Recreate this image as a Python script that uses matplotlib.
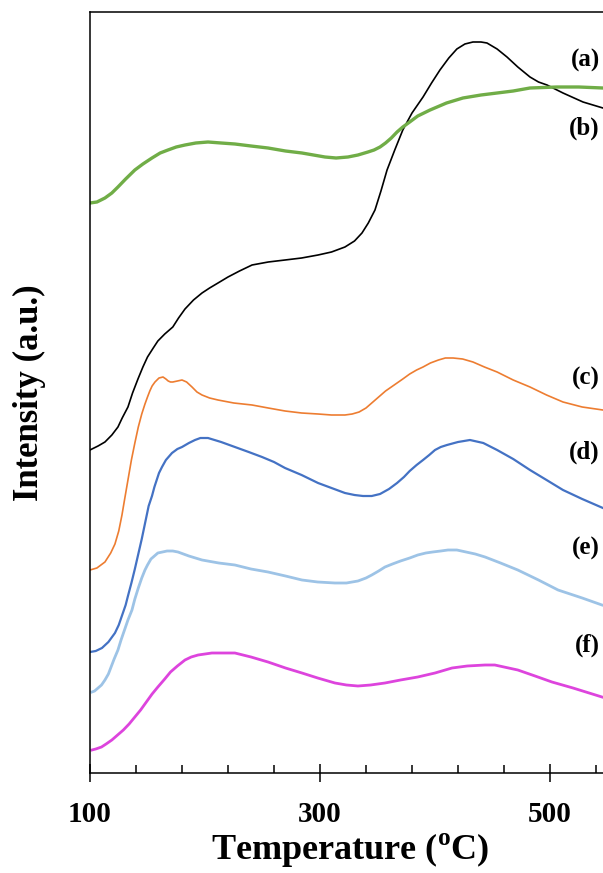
import numpy as np
import matplotlib
matplotlib.use("Agg")
import matplotlib.pyplot as plt
from matplotlib.transforms import blended_transform_factory

plt.rcParams['font.family'] = ['Liberation Serif', 'DejaVu Serif']
plt.rcParams['font.weight'] = 'bold'
plt.rcParams['mathtext.fontset'] = 'custom'
plt.rcParams['mathtext.rm'] = 'Liberation Serif:bold'
plt.rcParams['mathtext.bf'] = 'Liberation Serif:bold'

# TPR profiles (temperature in C, intensity in a.u.)
t_a = [100, 101.7, 107, 113, 119, 124.3, 128, 133, 137, 141.7, 146, 150, 155, 159, 165, 172,
       177, 182.6, 190, 197.4, 204, 211.3, 220, 230, 240.9, 255, 269.6, 284, 298.3,
       310, 321.7, 330, 336.5, 342, 347.8, 353, 358.3, 365, 372, 380, 389.6, 397,
       404.3, 412, 419, 426, 433, 440, 445.2, 454, 462.6, 472, 482.6, 490, 497.4,
       511.3, 528.7, 546, 560]
i_a = [323, 324, 327, 331, 338, 346, 355, 366, 380, 394, 406, 416, 425, 432, 439, 446,
       455, 464, 473, 480, 485, 490, 496, 502, 508, 511, 513, 515, 518,
       521, 526, 532, 540, 550, 563, 582, 603, 623, 643, 660, 676, 690,
       703, 715, 724, 729, 731, 731, 730, 724, 716, 706, 696, 691, 688,
       680, 671, 665, 660]

t_b = [100, 106, 113, 119, 124.3, 131, 139, 146, 153.9, 161, 167.8, 175, 182.6, 192, 202.6,
       214, 226, 240, 254.8, 270, 284.3, 304.3, 314, 324.3, 333, 341.7, 347, 352.2,
       357, 362, 367, 372, 378, 385, 395.7, 410, 424.3, 440, 454, 468, 482.6, 506,
       525, 546, 560]
i_b = [570, 571, 575, 580, 586, 594, 603, 609, 615, 620, 623, 626, 628, 630, 631,
       630, 629, 627, 625, 622, 620, 616, 615, 616, 618, 621, 623, 626,
       630, 635, 641, 646, 651, 657, 663, 670, 675, 678, 680, 682, 685, 686,
       686, 685, 685]

t_c = [100, 106, 113, 118, 121.7, 125, 127.8, 130, 133, 136, 139, 142, 145, 147.8, 150,
       152, 154, 156.5, 160, 163.5, 166, 168, 170, 172, 176, 180, 184,
       188.7, 193, 197.4, 204, 211.3, 225, 240.9, 255, 269.6, 284, 298.3, 310, 321.7,
       328, 334, 340, 346, 352, 357, 362, 367, 372, 378, 384, 389.6, 396, 403, 409,
       415.7, 424, 433, 443, 454, 468, 482.6, 497, 511.3, 528, 546, 560]
i_c = [203, 205, 211, 220, 229, 242, 258, 273, 293, 313, 330, 346, 359, 369, 376,
       382, 387, 391, 395, 396, 394, 392, 391, 391, 392, 393, 391,
       386, 381, 378, 375, 373, 370, 368, 365, 362, 360, 359, 358, 358,
       359, 361, 365, 371, 377, 382, 386, 390, 394, 399, 403, 406, 410, 413, 415,
       415, 414, 411, 406, 401, 393, 386, 378, 371, 366, 363, 360]

t_d = [100, 105, 110.4, 116, 121.7, 125, 128, 131, 133, 136, 139, 142, 145, 147, 149, 151,
       153.9, 156, 158, 160, 162.6, 166, 171.3, 176, 180, 186, 191.3, 196,
       202.6, 214, 226, 238, 249.6, 260, 269.6, 284, 298.3, 310, 321.7, 330, 337.4,
       345, 352.2, 360, 367, 373, 378, 384, 389.6, 395, 400, 405, 410.4, 420, 430.4,
       442, 454, 468, 482.6, 497, 511.3, 528, 546, 560]
i_d = [121, 122, 125, 131, 140, 148, 158, 168, 177, 190, 204, 219, 234, 245, 256, 267,
       277, 286, 293, 300, 306, 313, 320, 324, 326, 330, 333, 335,
       335, 331, 326, 321, 316, 311, 305, 298, 290, 285, 280, 278, 277,
       277, 279, 284, 290, 296, 302, 308, 313, 318, 323, 326, 328, 331, 333,
       330, 323, 314, 303, 293, 283, 274, 265, 258]

t_e = [101.7, 104, 107, 110, 113, 116, 118, 121, 124.3, 127, 130, 133, 136.5, 139, 142,
       145, 147.8, 150, 153, 156, 159, 163, 167, 172, 176.5, 186, 197.4, 212,
       226, 240, 254.8, 270, 284.3, 298, 313, 323, 333, 340, 345, 351, 356.5, 363,
       370, 378, 385, 392, 398, 405, 411.3, 419, 427, 435, 443.5, 457, 472, 490,
       507, 528, 545.2, 560]
i_e = [81, 82, 85, 88, 93, 99, 105, 114, 123, 133, 143, 153, 163, 174, 185,
       195, 203, 208, 214, 217, 220, 221, 222, 222, 221, 217, 213, 210,
       208, 204, 201, 197, 193, 191, 190, 190, 192, 195, 198, 202, 206, 209,
       212, 215, 218, 220, 221, 222, 223, 223, 221, 219, 216, 210, 203, 193,
       183, 175, 168, 163]

t_f = [101.7, 105, 110, 114, 119, 124, 129, 134, 139, 144, 149, 154, 159, 165, 170,
       176, 182.6, 188, 194, 200, 206, 216, 226, 240, 254.8, 270, 284.3, 298,
       313, 323, 333, 344, 356.5, 370, 385, 400, 414.8, 428, 443.5, 452, 460, 472,
       487, 501.7, 520, 545.2, 560]
i_f = [23, 24, 26, 29, 33, 38, 43, 49, 56, 63, 71, 79, 86, 94, 101,
       107, 113, 116, 118, 119, 120, 120, 120, 116, 111, 105, 100, 95,
       90, 88, 87, 88, 90, 93, 96, 100, 105, 107, 108, 108, 106, 103,
       97, 91, 85, 76, 71]

x_major = [100, 300, 500]
x_minor = list(range(100, 561, 40))

series = [(t_a, i_a), (t_b, i_b), (t_c, i_c), (t_d, i_d), (t_e, i_e), (t_f, i_f)]
colors = ['black', '#70AD47', '#ED7D31', '#4472C4', '#9DC3E6', '#DD44DD']
widths = [1.2, 2.4, 1.2, 1.6, 2.0, 2.0]
labels = ['(a)', '(b)', '(c)', '(d)', '(e)', '(f)']
label_y = [713, 645, 395, 321, 225, 128]

fig = plt.figure(figsize=(6.03, 8.73), dpi=100)
ax = fig.add_axes([90 / 603, 100 / 873, 540 / 603, 761 / 873])

for (t, i), c, w in zip(series, colors, widths):
    ax.plot(t, i, color=c, linewidth=w, solid_joinstyle='round')

# labels hug the cropped right edge of the figure
tr = blended_transform_factory(fig.transFigure, ax.transData)
for lab, y in zip(labels, label_y):
    ax.text(600 / 603, y, lab, transform=tr, fontsize=18,
            fontweight='bold', ha='right', va='center')

ax.set_xlim(100, 100 + 540 / 1.15)
ax.set_ylim(0, 761)
ax.set_yticks([])
ax.set_xticks(x_major)
ax.set_xticks(x_minor, minor=True)
ax.tick_params(axis='x', which='major', direction='inout', length=13, width=1.1,
               labelsize=21, pad=14)
ax.tick_params(axis='x', which='minor', direction='in', length=6, width=1.1)
for lab in ax.get_xticklabels():
    lab.set_fontweight('bold')
for s in ax.spines.values():
    s.set_linewidth(1.1)

ax.set_xlabel(r'Temperature ($^{\rm o}$C)', fontsize=26, fontweight='bold')
ax.xaxis.set_label_coords((350 - 90) / 540, -(850 - 773) / 761)
ax.xaxis.label.set_va('center')
ax.set_ylabel('Intensity (a.u.)', fontsize=25, fontweight='bold')
ax.yaxis.set_label_coords(-(90 - 29) / 540, 0.5)
ax.yaxis.label.set_va('center')

fig.savefig('out.png', dpi=100)
